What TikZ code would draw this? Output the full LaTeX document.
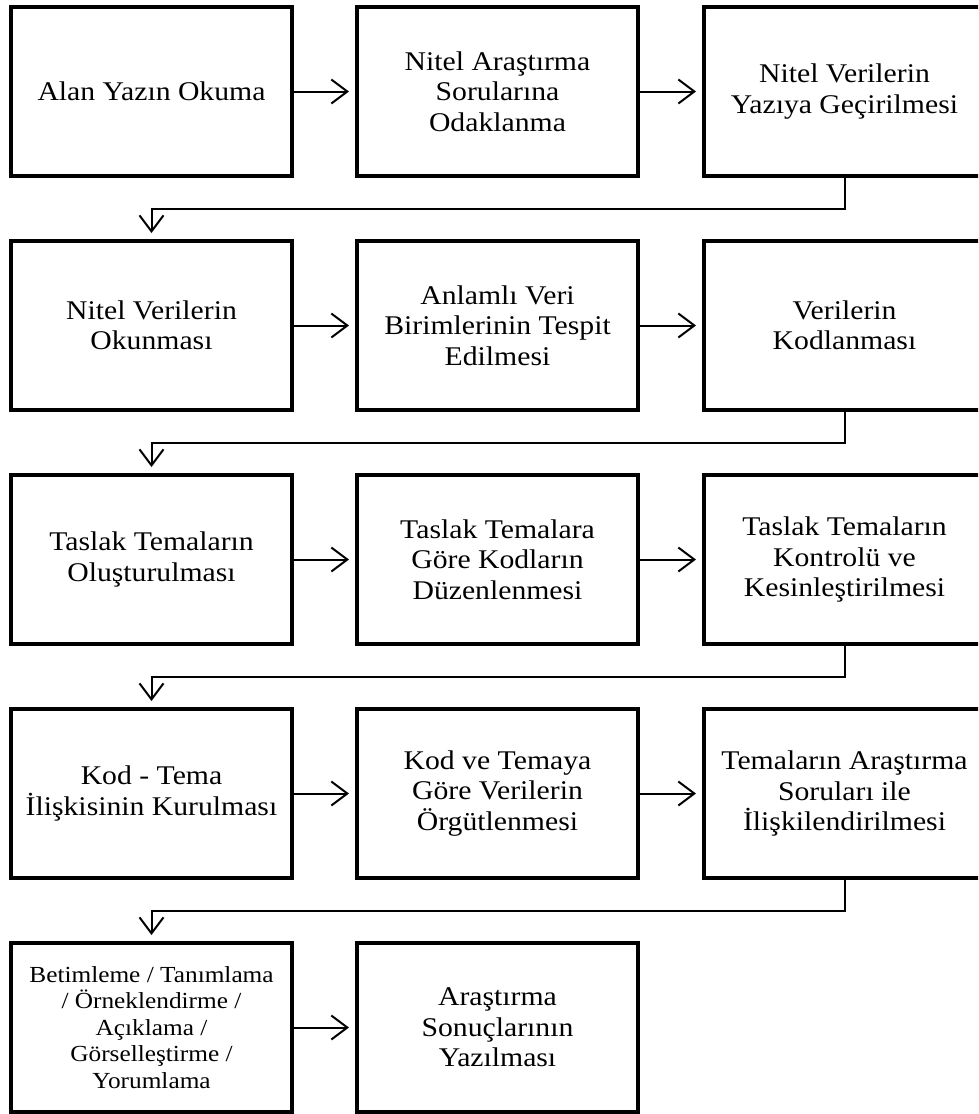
\documentclass[tikz,border=0pt]{standalone}
\usepackage{fontspec}
\setmainfont{Liberation Serif}[FakeStretch=1.10]
\usetikzlibrary{arrows.meta,calc}
\begin{document}
\begin{tikzpicture}[x=1pt,y=-1pt,
  box/.style={draw, line width=4pt, minimum width=281pt, minimum height=169pt,
    align=center, inner sep=0pt, font=\fontsize{27}{30.5}\selectfont},
  smallbox/.style={box, font=\fontsize{23}{26.5}\selectfont},
  conn/.style={line width=2pt, -{Straight Barb[length=16pt,width=24pt]}, shorten >=6pt}]
\useasboundingbox (0,0) rectangle (978,1114);
\clip (0,0) rectangle (978,1114);
% row 1
\node[box] (n11) at (151.5,91.5) {Alan Yazın Okuma};
\node[box] (n12) at (497.5,91.5) {Nitel Araştırma\\Sorularına\\Odaklanma};
\node[box] (n13) at (844.5,91.5) {Nitel Verilerin\\Yazıya Geçirilmesi};
% row 2
\node[box] (n21) at (151.5,325.5) {Nitel Verilerin\\Okunması};
\node[box] (n22) at (497.5,325.5) {Anlamlı Veri\\Birimlerinin Tespit\\Edilmesi};
\node[box] (n23) at (844.5,325.5) {Verilerin\\Kodlanması};
% row 3
\node[box] (n31) at (151.5,559.5) {Taslak Temaların\\Oluşturulması};
\node[box] (n32) at (497.5,559.5) {Taslak Temalara\\Göre Kodların\\Düzenlenmesi};
\node[box] (n33) at (844.5,559.5) {Taslak Temaların\\Kontrolü ve\\Kesinleştirilmesi};
% row 4
\node[box] (n41) at (151.5,793.5) {Kod - Tema\\İlişkisinin Kurulması};
\node[box] (n42) at (497.5,793.5) {Kod ve Temaya\\Göre Verilerin\\Örgütlenmesi};
\node[box] (n43) at (844.5,793.5) {Temaların Araştırma\\Soruları ile\\İlişkilendirilmesi};
% row 5
\node[smallbox] (n51) at (151.5,1027.5) {Betimleme / Tanımlama\\/ Örneklendirme /\\Açıklama /\\Görselleştirme /\\Yorumlama};
\node[box] (n52) at (497.5,1027.5) {Araştırma\\Sonuçlarının\\Yazılması};
% horizontal arrows
\foreach \r in {1,2,3,4} {
  \draw[conn] (n\r1.east) -- (n\r2.west);
  \draw[conn] (n\r2.east) -- (n\r3.west);
}
\draw[conn] (n51.east) -- (n52.west);
% row-to-row connectors
\foreach \r/\s in {1/2,2/3,3/4,4/5} {
  \coordinate (m\r) at ($(n\r3.south)!0.5!(n\s1.north)$);
  \draw[conn] (n\r3.south) -- (n\r3.south |- m\r) -| (n\s1.north);
}
\end{tikzpicture}
\end{document}
